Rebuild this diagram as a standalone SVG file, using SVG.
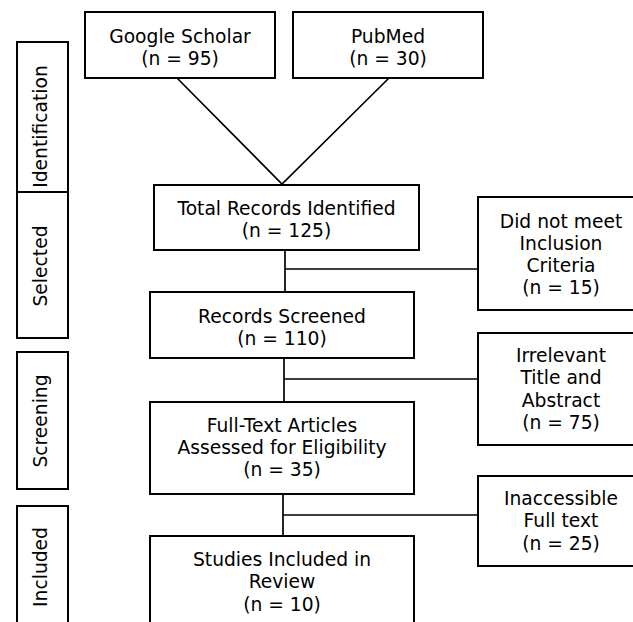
<svg xmlns="http://www.w3.org/2000/svg" width="633" height="622" viewBox="0 0 633 622">
<style>
.box{fill:#fff;stroke:#000;stroke-width:2}
.t{font-family:"DejaVu Sans",Verdana,sans-serif;font-size:18.7px;fill:#000;text-anchor:middle}
.c{fill:none;stroke:#000;stroke-width:1.7}
</style>
<rect width="633" height="622" fill="#fff"/>
<g id="connectors">
<path class="c" d="M177,78 L282,184 L389,78"/>
<path class="c" d="M285,250 V292 M285,269 H478"/>
<path class="c" d="M284,358 V402 M284,379 H478"/>
<path class="c" d="M283,494 V536 M283,515 H478"/>
</g>
<g id="stage-identification">
<rect class="box" x="17" y="42" width="51" height="150"/>
<text class="t" transform="translate(47,126.5) rotate(-90)">Identification</text>
</g>
<g id="stage-selected">
<rect class="box" x="17" y="192" width="51" height="146"/>
<text class="t" transform="translate(47,266) rotate(-90)">Selected</text>
</g>
<g id="stage-screening">
<rect class="box" x="17" y="352" width="51" height="137"/>
<text class="t" transform="translate(47,421) rotate(-90)">Screening</text>
</g>
<g id="stage-included">
<rect class="box" x="17" y="506" width="51" height="130"/>
<text class="t" transform="translate(47,567) rotate(-90)">Included</text>
</g>
<g id="google-scholar">
<rect class="box" x="85" y="12" width="190" height="66"/>
<text class="t" x="180" y="42.5">Google Scholar</text>
<text class="t" x="180" y="65">(n = 95)</text>
</g>
<g id="pubmed">
<rect class="box" x="293" y="12" width="190" height="66"/>
<text class="t" x="388" y="42.5">PubMed</text>
<text class="t" x="388" y="65">(n = 30)</text>
</g>
<g id="total-records">
<rect class="box" x="154" y="185" width="265" height="65"/>
<text class="t" x="286.5" y="214.5">Total Records Identified</text>
<text class="t" x="286.5" y="237">(n = 125)</text>
</g>
<g id="did-not-meet">
<rect class="box" x="478" y="197" width="166" height="113"/>
<text class="t" x="561" y="227.5">Did not meet</text>
<text class="t" x="561" y="250">Inclusion</text>
<text class="t" x="561" y="272">Criteria</text>
<text class="t" x="561" y="294">(n = 15)</text>
</g>
<g id="records-screened">
<rect class="box" x="150" y="292" width="264" height="66"/>
<text class="t" x="282" y="322.5">Records Screened</text>
<text class="t" x="282" y="345">(n = 110)</text>
</g>
<g id="irrelevant">
<rect class="box" x="478" y="333" width="166" height="112"/>
<text class="t" x="561" y="361.5">Irrelevant</text>
<text class="t" x="561" y="383.5">Title and</text>
<text class="t" x="561" y="406.5">Abstract</text>
<text class="t" x="561" y="429">(n = 75)</text>
</g>
<g id="full-text">
<rect class="box" x="150" y="402" width="264" height="92"/>
<text class="t" x="282" y="431.5">Full-Text Articles</text>
<text class="t" x="282" y="454">Assessed for Eligibility</text>
<text class="t" x="282" y="476">(n = 35)</text>
</g>
<g id="inaccessible">
<rect class="box" x="478" y="476" width="166" height="90"/>
<text class="t" x="561" y="504.5">Inaccessible</text>
<text class="t" x="561" y="527">Full text</text>
<text class="t" x="561" y="549.5">(n = 25)</text>
</g>
<g id="studies-included">
<rect class="box" x="150" y="536" width="264" height="100"/>
<text class="t" x="282" y="565.5">Studies Included in</text>
<text class="t" x="282" y="588">Review</text>
<text class="t" x="282" y="610.5">(n = 10)</text>
</g>
</svg>
